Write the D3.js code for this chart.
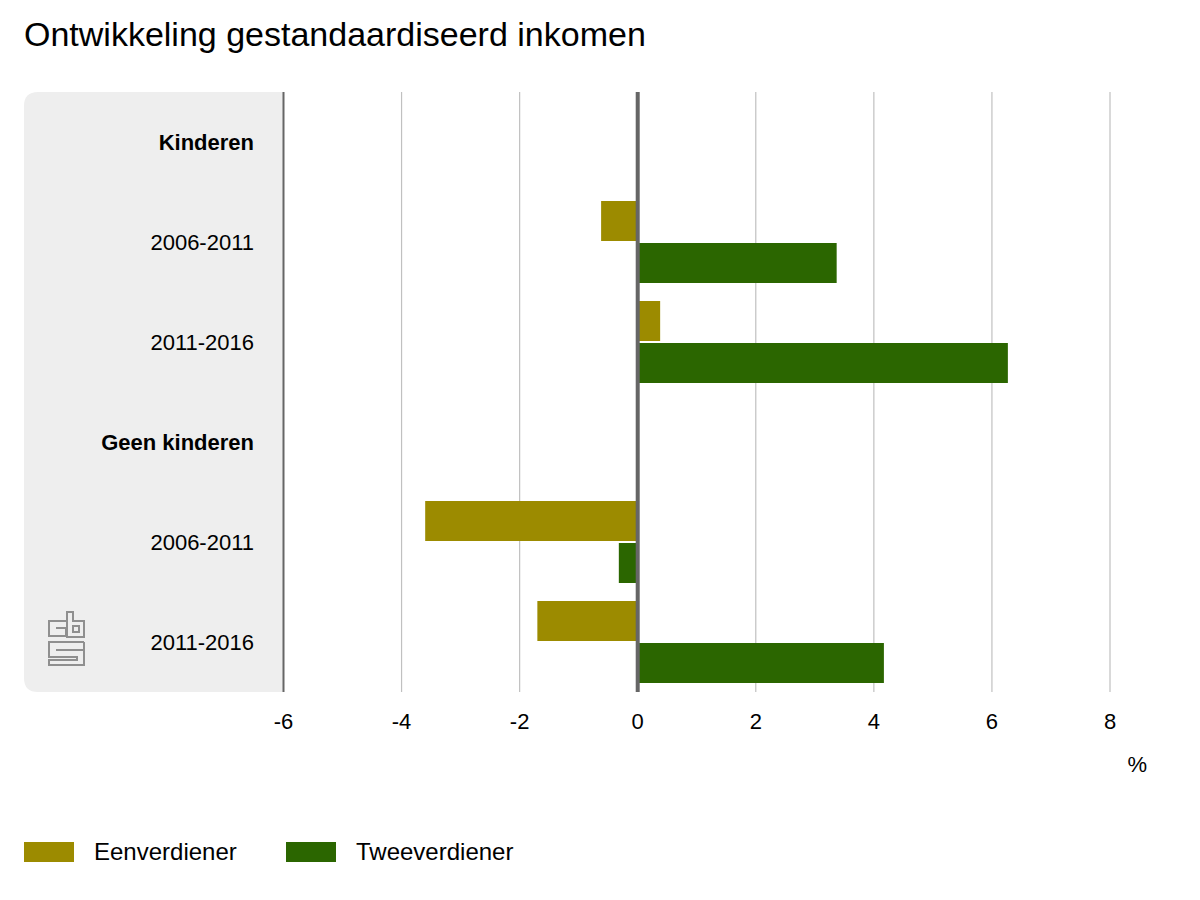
<!DOCTYPE html>
<html>
<head>
<meta charset="utf-8">
<script src="https://cdn.jsdelivr.net/npm/d3@7"></script>
<style>
  html, body { margin: 0; padding: 0; background: #fff; }
  text { font-family: "Liberation Sans", Arial, sans-serif; fill: #000; }
</style>
</head>
<body>
<script>
const categories = ["Kinderen", "2006-2011 k", "2011-2016 k", "Geen kinderen", "2006-2011 g", "2011-2016 g"];
const categoryLabels = ["Kinderen", "2006-2011", "2011-2016", "Geen kinderen", "2006-2011", "2011-2016"];
const boldCategories = ["Kinderen", "Geen kinderen"];
const eenverdiener = [null, -0.62, 0.38, null, -3.6, -1.7];
const tweeverdiener = [null, 3.37, 6.27, null, -0.32, 4.17];
const seriesNames = ["Eenverdiener", "Tweeverdiener"];
const xTicks = [-6, -4, -2, 0, 2, 4, 6, 8];

const colors = ["#9c8b00", "#2b6600"];
const width = 1200;
const height = 900;

const svg = d3.select("body")
      .append("svg")
      .attr("width", width)
      .attr("height", height)
      .style("display", "block");

const xScale = d3.scaleLinear()
      .domain([-6, 8])
      .range([283.5, 1110]);

const yScale = d3.scaleBand()
      .domain(categories)
      .range([92, 692]);

const barHeight = 40;
const barGap = 2;

// title
svg.append("text")
      .attr("x", 24)
      .attr("y", 46)
      .style("font-size", "34px")
      .text("Ontwikkeling gestandaardiseerd inkomen");

// grey label panel with rounded left corners
svg.append("path")
      .attr("fill", "#eeeeee")
      .attr("d", "M283,92 H38 Q24,92 24,106 V678 Q24,692 38,692 H283 Z");

// logo
svg.append("path")
      .attr("fill", "none")
      .attr("stroke", "#8f8f8f")
      .attr("stroke-width", 2)
      .attr("d", "M66,621 H49 V636 H66 V628 H56 "
            + "M67,612 H73 V621 H84 V637 H67 Z M73,626 H79 V632 H73 Z "
            + "M84,642 V665 H49 V660 H77 V657 H49 V642 H84 M84,650 H56");

// gridlines and x axis
const xAxis = d3.axisBottom(xScale)
      .tickValues(xTicks)
      .tickSize(600)
      .tickPadding(21)
      .offset(0)
      .tickFormat(d => String(d));

const axisGroup = svg.append("g")
      .attr("transform", "translate(0, 92)")
      .call(xAxis);

axisGroup.select(".domain").remove();
axisGroup.selectAll(".tick line")
      .attr("stroke", d => d === -6 ? "#666666" : "#c0c0c0")
      .attr("stroke-width", d => d === -6 ? 2 : 1.2);
axisGroup.selectAll(".tick text")
      .style("font-size", "22px")
      .style("font-family", '"Liberation Sans", Arial, sans-serif')
      .attr("fill", "#000");

svg.append("text")
      .attr("x", 1147)
      .attr("y", 772)
      .attr("text-anchor", "end")
      .style("font-size", "22px")
      .text("%");

// category labels
svg.append("g")
      .selectAll("text")
      .data(categories)
      .join("text")
      .attr("x", 254)
      .attr("y", d => yScale(d) + yScale.bandwidth() / 2 + 8)
      .attr("text-anchor", "end")
      .style("font-size", "22px")
      .style("font-weight", (d, i) => boldCategories.includes(categoryLabels[i]) ? "bold" : "normal")
      .text((d, i) => categoryLabels[i]);

// bars
[eenverdiener, tweeverdiener].forEach((values, s) => {
      const rows = categories
            .map((c, i) => ({category: c, value: values[i]}))
            .filter(d => d.value !== null);

      svg.append("g")
            .selectAll("rect")
            .data(rows)
            .join("rect")
            .attr("fill", colors[s])
            .attr("x", d => xScale(Math.min(0, d.value)))
            .attr("y", d => yScale(d.category) + yScale.bandwidth() / 2 - barHeight - barGap / 2 + s * (barHeight + barGap))
            .attr("width", d => Math.abs(xScale(d.value) - xScale(0)))
            .attr("height", barHeight);
});

// zero line
svg.append("line")
      .attr("x1", xScale(0))
      .attr("x2", xScale(0))
      .attr("y1", 92)
      .attr("y2", 692)
      .attr("stroke", "#666666")
      .attr("stroke-width", 4);

// legend
const legendX = [24, 286];
const legend = svg.append("g")
      .selectAll("g")
      .data(seriesNames)
      .join("g")
      .attr("transform", (d, i) => `translate(${legendX[i]}, 842)`);

legend.append("rect")
      .attr("width", 50)
      .attr("height", 20)
      .attr("fill", (d, i) => colors[i]);

legend.append("text")
      .attr("x", 70)
      .attr("y", 18)
      .style("font-size", "24px")
      .text(d => d);
</script>
</body>
</html>
